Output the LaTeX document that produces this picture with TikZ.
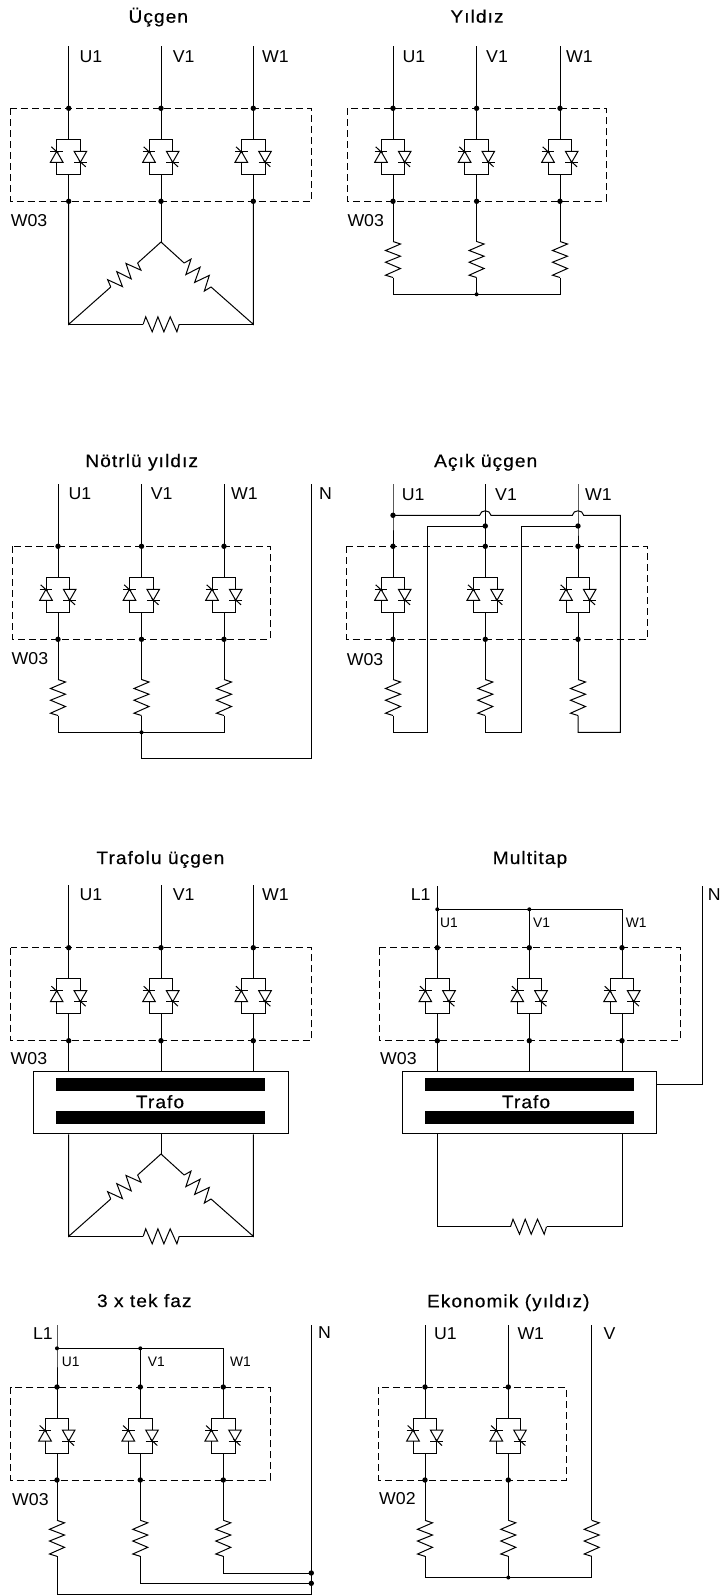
\documentclass[tikz,border=0pt]{standalone}
\usepackage{fontspec}
\setmainfont{Liberation Sans}
\newfontfamily\lblfont[FakeStretch=1.03]{Liberation Sans}
\newfontfamily\slblfont{Liberation Sans}
\newfontfamily\ttlfont[FakeStretch=1.06,FakeBold=0.4,LetterSpace=6]{Liberation Sans}
\usetikzlibrary{calc}
\tikzset{
  wire/.style={draw=black,line width=1pt,line join=miter},
  dbox/.style={draw=black,line width=0.85pt,dash pattern=on 7pt off 4pt},
  jdot/.style={circle,fill=black,inner sep=0pt,minimum size=5.4pt},
  sdot/.style={circle,fill=black,inner sep=0pt,minimum size=4pt},
  lbl/.style={anchor=west,inner sep=0pt,font=\lblfont\fontsize{17.2}{17.2}\selectfont},
  lblr/.style={anchor=east,inner sep=0pt,font=\lblfont\fontsize{17.2}{17.2}\selectfont},
  slbl/.style={anchor=west,inner sep=0pt,font=\slblfont\fontsize{13.8}{13.8}\selectfont},
  ttl/.style={anchor=base,inner sep=0pt,font=\ttlfont\fontsize{18}{18}\selectfont},
  trafobox/.style={draw=black,line width=1pt,fill=white,minimum height=62.3pt,inner sep=0pt},
  bar/.style={fill=black,draw=none},
  thypair/.pic={
    \coordinate (-i) at (0,-17.5);
    \coordinate (-o) at (0,17.5);
    \draw[wire] (-12,-5.5) -- (-12,-17.5) -- (11.7,-17.5) -- (11.7,-5.5);
    \draw[wire] (-12,5.5) -- (-12,17.5) -- (11.7,17.5) -- (11.7,5.5);
    \draw[wire] (-18.3,-5.5) -- (-5.7,-5.5);
    \draw[wire] (-12,-5.5) -- (-18.3,5.5) -- (-5.7,5.5) -- cycle;
    \draw[wire] (-17.3,-10) -- (-10.5,-3.7);
    \draw[wire] (5.4,5.5) -- (18,5.5);
    \draw[wire] (11.7,5.5) -- (5.4,-5.5) -- (18,-5.5) -- cycle;
    \draw[wire] (10.2,3.7) -- (17,10);
  },
  respic/.pic={
    \coordinate (-a) at (-18,0);
    \coordinate (-b) at (18,0);
    \draw[wire] (-18,0) -- (-15.5,-7.5) -- (-9,7.5) -- (-3.3,-7.5) -- (2.7,7.5) -- (9,-7.5) -- (15.7,7.5) -- (18,0);
  }
}
\newcommand{\phase}[3]{%
  \node[jdot] (#1-t) at (#2,#3) {};
  \node[jdot] (#1-b) at (#2,#3+93) {};
  \pic (#1-s) at (#2,#3+48.5) {thypair};
  \draw[wire] (#1-t.center) -- (#1-s-i);
  \draw[wire] (#1-s-o) -- (#1-b.center);
}
\begin{document}
\begin{tikzpicture}[x=1pt,y=-1pt]
\fill[white] (0,0) rectangle (720,1596);
\useasboundingbox (0,0) rectangle (720,1596);

%% Panel 1: Ucgen
\node[ttl] (t1) at (158.3,22.7) {Üçgen};
\draw[dbox] (10.7,108.3) rectangle (311.3,201.3);
\phase{a1}{68.7}{108.3}\phase{a2}{161}{108.3}\phase{a3}{253.3}{108.3}
\coordinate (a1i) at (68.7,46);\coordinate (a2i) at (161,46);\coordinate (a3i) at (253.3,46);
\draw[wire] (a1i) -- (a1-t.center);\draw[wire] (a2i) -- (a2-t.center);\draw[wire] (a3i) -- (a3-t.center);
\node[lbl] (a1l) at (79.3,57) {U1};\node[lbl] (a2l) at (172.7,57) {V1};\node[lbl] (a3l) at (262,57) {W1};
\node[lbl] (a0l) at (10.7,221) {W03};
\coordinate (aA) at (161,242);\coordinate (aL) at (68.7,324.3);\coordinate (aR) at (253.3,324.3);
\pic[rotate=41.7] (ar1) at (124.2,275) {respic};
\pic[rotate=-41.7] (ar2) at (197.6,275) {respic};
\pic (ar3) at (161.2,324.3) {respic};
\draw[wire] (a2-b.center) -- (aA);
\draw[wire] (a1-b.center) -- (aL) -- (ar1-a);\draw[wire] (ar1-b) -- (aA) -- (ar2-a);\draw[wire] (ar2-b) -- (aR) -- (a3-b.center);
\draw[wire] (aL) -- (ar3-a);\draw[wire] (ar3-b) -- (aR);

%% Panel 2: Yildiz
\node[ttl] (t2) at (477,22.7) {Yıldız};
\draw[dbox] (347,108.3) rectangle (606,201.3);
\phase{b1}{393}{108.3}\phase{b2}{476.6}{108.3}\phase{b3}{560}{108.3}
\coordinate (b1i) at (393,46);\coordinate (b2i) at (476.6,46);\coordinate (b3i) at (560,46);
\draw[wire] (b1i) -- (b1-t.center);\draw[wire] (b2i) -- (b2-t.center);\draw[wire] (b3i) -- (b3-t.center);
\node[lbl] (b1l) at (402.3,57) {U1};\node[lbl] (b2l) at (486,57) {V1};\node[lbl] (b3l) at (566,57) {W1};
\node[lbl] (b0l) at (347.3,221) {W03};
\pic[rotate=-90] (br1) at (393,259.5) {respic};
\pic[rotate=-90] (br2) at (476.6,259.5) {respic};
\pic[rotate=-90] (br3) at (560,259.5) {respic};
\node[sdot] (bm) at (476.6,294.3) {};
\draw[wire] (b1-b.center) -- (br1-a);\draw[wire] (b2-b.center) -- (br2-a);\draw[wire] (b3-b.center) -- (br3-a);
\draw[wire] (br1-b) -- (br1-b |- bm.center) -- (bm.center) -- (br3-b |- bm.center) -- (br3-b);
\draw[wire] (br2-b) -- (bm.center);

%% Panel 3: Notrlu yildiz
\node[ttl] (t3) at (141.7,467) {Nötrlü yıldız};
\draw[dbox] (12.2,546.3) rectangle (270,639.3);
\phase{c1}{58}{546.3}\phase{c2}{141.5}{546.3}\phase{c3}{224}{546.3}
\coordinate (c1i) at (58,484);\coordinate (c2i) at (141.5,484);\coordinate (c3i) at (224,484);\coordinate (cNi) at (311.6,484);
\draw[wire] (c1i) -- (c1-t.center);\draw[wire] (c2i) -- (c2-t.center);\draw[wire] (c3i) -- (c3-t.center);
\node[lbl] (c1l) at (68.5,494) {U1};\node[lbl] (c2l) at (150.7,494) {V1};\node[lbl] (c3l) at (231,494) {W1};\node[lbl] (cNl) at (319,494) {N};
\node[lbl] (c0l) at (11.5,659) {W03};
\pic[rotate=-90] (cr1) at (58,697.5) {respic};
\pic[rotate=-90] (cr2) at (141.5,697.5) {respic};
\pic[rotate=-90] (cr3) at (224,697.5) {respic};
\node[sdot] (cm) at (141.5,732.3) {};
\coordinate (cNb) at (311.6,758.7);
\draw[wire] (c1-b.center) -- (cr1-a);\draw[wire] (c2-b.center) -- (cr2-a);\draw[wire] (c3-b.center) -- (cr3-a);
\draw[wire] (cr1-b) -- (cr1-b |- cm.center) -- (cm.center) -- (cr3-b |- cm.center) -- (cr3-b);
\draw[wire] (cr2-b) -- (cm.center) -- (cm.center |- cNb) -- (cNb) -- (cNi);

%% Panel 4: Acik ucgen
\node[ttl] (t4) at (485.7,467) {Açık üçgen};
\draw[dbox] (346.7,546.3) rectangle (647.3,639.3);
\phase{d1}{393}{546.3}\phase{d2}{485.3}{546.3}\phase{d3}{578}{546.3}
\coordinate (d1i) at (393,484);\coordinate (d2i) at (485.3,484);\coordinate (d3i) at (578,484);
\node[jdot] (dj1) at (393,515.3) {};
\node[jdot] (dj2) at (485.3,526) {};
\node[jdot] (dj3) at (578,526) {};
\draw[wire] (d1i) -- (dj1.center) -- (d1-t.center);
\draw[wire] (d2i) -- (dj2.center) -- (d2-t.center);
\draw[wire] (d3i) -- (dj3.center) -- (d3-t.center);
\node[lbl] (d1l) at (401.7,495) {U1};\node[lbl] (d2l) at (495,495) {V1};\node[lbl] (d3l) at (585,495) {W1};
\node[lbl] (d0l) at (346.7,660) {W03};
\pic[rotate=-90] (dr1) at (393,697.5) {respic};
\pic[rotate=-90] (dr2) at (485.3,697.5) {respic};
\pic[rotate=-90] (dr3) at (578,697.5) {respic};
\draw[wire] (d1-b.center) -- (dr1-a);\draw[wire] (d2-b.center) -- (dr2-a);\draw[wire] (d3-b.center) -- (dr3-a);
\coordinate (h1a) at (479.6,515.3);\coordinate (h1b) at (491,515.3);
\coordinate (h2a) at (572.3,515.3);\coordinate (h2b) at (583.7,515.3);
\coordinate (dT) at (620.3,515.3);\coordinate (dB3) at (620.3,732.3);
\draw[wire] (dj1.center) -- (h1a) .. controls ($(h1a)+(1,-6)$) and ($(h1b)+(-1,-6)$) .. (h1b) -- (h2a)
  .. controls ($(h2a)+(1,-6)$) and ($(h2b)+(-1,-6)$) .. (h2b) -- (dT) -- (dB3) -- (578,732.3) -- (dr3-b);
\draw[wire] (dj2.center) -- (427.7,526) -- (427.7,732.3) -- (393,732.3) -- (dr1-b);
\draw[wire] (dj3.center) -- (521.7,526) -- (521.7,732.3) -- (485.3,732.3) -- (dr2-b);

%% Panel 5: Trafolu ucgen
\node[ttl] (t5) at (160.4,864) {Trafolu üçgen};
\draw[dbox] (10.7,947.7) rectangle (311.3,1040.7);
\phase{e1}{68.7}{947.7}\phase{e2}{161}{947.7}\phase{e3}{253.3}{947.7}
\coordinate (e1i) at (68.7,885);\coordinate (e2i) at (161,885);\coordinate (e3i) at (253.3,885);
\draw[wire] (e1i) -- (e1-t.center);\draw[wire] (e2i) -- (e2-t.center);\draw[wire] (e3i) -- (e3-t.center);
\node[lbl] (e1l) at (79.3,895) {U1};\node[lbl] (e2l) at (172.7,895) {V1};\node[lbl] (e3l) at (262,895) {W1};
\node[lbl] (e0l) at (10.5,1059) {W03};
\node[trafobox,minimum width=254.4pt] (etr) at (160.8,1102.8) {};
\fill[bar] (56,1077.7) rectangle (265,1090.7);
\fill[bar] (56,1110.7) rectangle (265,1123.7);
\node[anchor=center,inner sep=0pt,font=\ttlfont\fontsize{18}{18}\selectfont] (etl) at (160,1101.7) {Trafo};
\draw[wire] (e1-b.center) -- (e1-b.center |- etr.north);
\draw[wire] (e2-b.center) -- (e2-b.center |- etr.north);
\draw[wire] (e3-b.center) -- (e3-b.center |- etr.north);
\coordinate (eA) at (161,1154);\coordinate (eL) at (68.7,1236.3);\coordinate (eR) at (253.3,1236.3);
\pic[rotate=41.7] (er1) at (124.2,1187) {respic};
\pic[rotate=-41.7] (er2) at (197.6,1187) {respic};
\pic (er3) at (161.2,1236.3) {respic};
\draw[wire] (etr.south -| eA) -- (eA);
\draw[wire] (etr.south -| eL) -- (eL) -- (er1-a);\draw[wire] (er1-b) -- (eA) -- (er2-a);\draw[wire] (er2-b) -- (eR) -- (etr.south -| eR);
\draw[wire] (eL) -- (er3-a);\draw[wire] (er3-b) -- (eR);

%% Panel 6: Multitap
\node[ttl] (t6) at (530,864) {Multitap};
\draw[dbox] (379.3,947.7) rectangle (680,1040.7);
\phase{f1}{437.3}{947.7}\phase{f2}{529.3}{947.7}\phase{f3}{622}{947.7}
\coordinate (fLi) at (437.3,886);\coordinate (fNi) at (702.3,886);
\node[sdot] (fj1) at (437.3,909.3) {};
\node[sdot] (fj2) at (529.3,909.3) {};
\coordinate (fj3) at (622,909.3);
\draw[wire] (fLi) -- (fj1.center) -- (f1-t.center);
\draw[wire] (fj1.center) -- (fj2.center) -- (fj3) -- (f3-t.center);
\draw[wire] (fj2.center) -- (f2-t.center);
\node[lblr] (fLl) at (430.7,895) {L1};\node[lbl] (fNl) at (707.7,895) {N};
\node[slbl] (f1l) at (440,923) {U1};\node[slbl] (f2l) at (533,923) {V1};\node[slbl] (f3l) at (625.7,923) {W1};
\node[lbl] (f0l) at (380,1059) {W03};
\node[trafobox,minimum width=254pt] (ftr) at (529.7,1102.8) {};
\fill[bar] (425,1077.7) rectangle (634,1090.7);
\fill[bar] (425,1110.7) rectangle (634,1123.7);
\node[anchor=center,inner sep=0pt,font=\ttlfont\fontsize{18}{18}\selectfont] (ftl) at (526,1101.7) {Trafo};
\draw[wire] (f1-b.center) -- (f1-b.center |- ftr.north);
\draw[wire] (f2-b.center) -- (f2-b.center |- ftr.north);
\draw[wire] (f3-b.center) -- (f3-b.center |- ftr.north);
\coordinate (fNb) at (702.3,1084);
\draw[wire] (fNi) -- (fNb) -- (fNb -| ftr.east);
\pic (fr) at (528.5,1226.7) {respic};
\coordinate (fBL) at (437.3,1226.7);\coordinate (fBR) at (622,1226.7);
\draw[wire] (ftr.south -| fBL) -- (fBL) -- (fr-a);
\draw[wire] (fr-b) -- (fBR) -- (ftr.south -| fBR);

%% Panel 7: 3 x tek faz
\node[ttl] (t7) at (144.3,1307) {3 x tek faz};
\draw[dbox] (10.7,1387) rectangle (270,1480);
\phase{g1}{57}{1387}\phase{g2}{140.3}{1387}\phase{g3}{223.3}{1387}
\coordinate (gLi) at (57,1325);\coordinate (gNi) at (311.3,1325);
\node[sdot] (gj1) at (57,1348.3) {};
\node[sdot] (gj2) at (140.3,1348.3) {};
\coordinate (gj3) at (223.3,1348.3);
\draw[wire] (gLi) -- (gj1.center) -- (g1-t.center);
\draw[wire] (gj1.center) -- (gj2.center) -- (gj3) -- (g3-t.center);
\draw[wire] (gj2.center) -- (g2-t.center);
\node[lblr] (gLl) at (53,1334) {L1};\node[lbl] (gNl) at (318,1332.7) {N};
\node[slbl] (g1l) at (61.7,1362) {U1};\node[slbl] (g2l) at (147.7,1362) {V1};\node[slbl] (g3l) at (230,1362) {W1};
\node[lbl] (g0l) at (12,1499.3) {W03};
\pic[rotate=-90] (gr1) at (57,1538.3) {respic};
\pic[rotate=-90] (gr2) at (140.3,1538.3) {respic};
\pic[rotate=-90] (gr3) at (223.3,1538.3) {respic};
\draw[wire] (g1-b.center) -- (gr1-a);\draw[wire] (g2-b.center) -- (gr2-a);\draw[wire] (g3-b.center) -- (gr3-a);
\node[jdot] (gd3) at (311.3,1573) {};
\node[jdot] (gd2) at (311.3,1583.3) {};
\coordinate (gNb) at (311.3,1594.7);
\draw[wire] (gNi) -- (gd3.center) -- (gd2.center) -- (gNb) -- (gNb -| gr1-b) -- (gr1-b);
\draw[wire] (gr2-b) -- (gr2-b |- gd2.center) -- (gd2.center);
\draw[wire] (gr3-b) -- (gr3-b |- gd3.center) -- (gd3.center);

%% Panel 8: Ekonomik
\node[ttl] (t8) at (508.3,1307.3) {Ekonomik (yıldız)};
\draw[dbox] (378.8,1387) rectangle (566,1480);
\phase{k1}{425}{1387}\phase{k2}{508.3}{1387}
\coordinate (k1i) at (425,1325);\coordinate (k2i) at (508.3,1325);\coordinate (k3i) at (591.7,1325);
\draw[wire] (k1i) -- (k1-t.center);\draw[wire] (k2i) -- (k2-t.center);
\node[lbl] (k1l) at (434,1333.3) {U1};\node[lbl] (k2l) at (517.3,1333.3) {W1};\node[lbl] (k3l) at (603.3,1333.3) {V};
\node[lbl] (k0l) at (379,1499) {W02};
\pic[rotate=-90] (kr1) at (425,1538.3) {respic};
\pic[rotate=-90] (kr2) at (508.3,1538.3) {respic};
\pic[rotate=-90] (kr3) at (591.7,1538.3) {respic};
\node[sdot] (km) at (508.3,1577.5) {};
\draw[wire] (k1-b.center) -- (kr1-a);\draw[wire] (k2-b.center) -- (kr2-a);\draw[wire] (k3i) -- (kr3-a);
\draw[wire] (kr1-b) -- (kr1-b |- km.center) -- (km.center) -- (kr3-b |- km.center) -- (kr3-b);
\draw[wire] (kr2-b) -- (km.center);
\end{tikzpicture}
\end{document}
